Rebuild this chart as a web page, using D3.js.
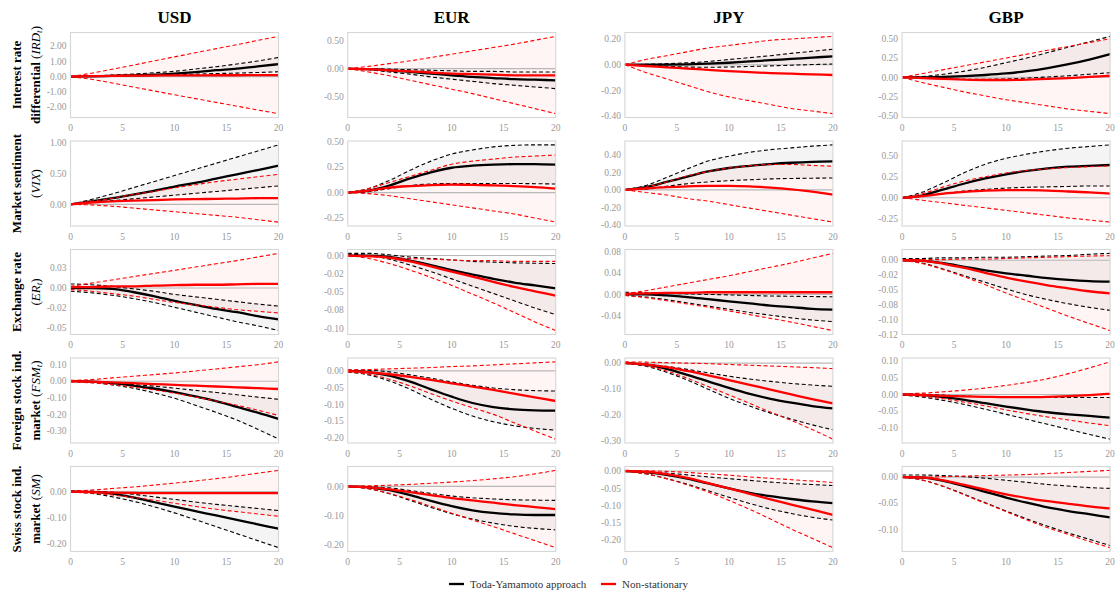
<!DOCTYPE html>
<html><head><meta charset="utf-8">
<script src="https://cdn.jsdelivr.net/npm/d3@7"></script>
<style>html,body{margin:0;padding:0;background:#fff;}svg{display:block;}</style>
</head><body>
<svg id="chart" width="1118" height="594"></svg>
<script>
const horizons = [0,2,4,6,8,10,12,14,16,18,20];
const currencies = ["USD","EUR","JPY","GBP"];
const rowLine1 = ["Interest rate","Market sentiment","Exchange rate","Foreign stock ind.","Swiss stock ind."];
const rowLine2Prefix = ["differential ","","","market ","market "];
const rowSymbol = ["IRD","VIX","ER","FSM","SM"];
const rowSubscript = ["t","","t","t",""];
const xTicks = [0,5,10,15,20];

// y tick values and labels [row][col]
const yTicks = [
 [[-2,-1,0,1,2],[-0.5,0,0.5],[-0.4,-0.2,0,0.2],[-0.5,-0.25,0,0.25,0.5]],
 [[0,0.5,1],[-0.25,0,0.25,0.5],[-0.4,-0.2,0,0.2,0.4],[-0.25,0,0.25,0.5]],
 [[-0.05,-0.025,0,0.025],[-0.1,-0.075,-0.05,-0.025,0],[-0.04,0,0.04,0.08],[-0.125,-0.1,-0.075,-0.05,-0.025,0]],
 [[-0.3,-0.2,-0.1,0,0.1],[-0.2,-0.15,-0.1,-0.05,0],[-0.3,-0.2,-0.1,0],[-0.1,-0.05,0,0.05,0.1]],
 [[-0.2,-0.1,0],[-0.2,-0.1,0],[-0.2,-0.15,-0.1,-0.05,0],[-0.1,-0.05,0]]
];
const yTickLabels = [
 [["-2.00","-1.00","0.00","1.00","2.00"],["-0.50","0.00","0.50"],["-0.40","-0.20","0.00","0.20"],["-0.50","-0.25","0.00","0.25","0.50"]],
 [["0.00","0.50","1.00"],["-0.25","0.00","0.25","0.50"],["-0.40","-0.20","0.00","0.20","0.40"],["-0.25","0.00","0.25","0.50"]],
 [["-0.05","-0.02","0.00","0.03"],["-0.10","-0.08","-0.05","-0.02","0.00"],["-0.04","0.00","0.04","0.08"],["-0.12","-0.10","-0.08","-0.05","-0.02","0.00"]],
 [["-0.30","-0.20","-0.10","0.00","0.10"],["-0.20","-0.15","-0.10","-0.05","0.00"],["-0.30","-0.20","-0.10","0.00"],["-0.10","-0.05","0.00","0.05","0.10"]],
 [["-0.20","-0.10","0.00"],["-0.20","-0.10","0.00"],["-0.20","-0.15","-0.10","-0.05","0.00"],["-0.10","-0.05","0.00"]]
];

// Toda-Yamamoto IRF [row][col][horizon]
const tyIRF = [
 [[0,0.02,0.05,0.08,0.12,0.2,0.3,0.42,0.53,0.67,0.82],
  [0,-0.01,-0.03,-0.06,-0.09,-0.12,-0.15,-0.17,-0.19,-0.2,-0.21],
  [0,0,0.001,0.003,0.008,0.015,0.025,0.035,0.045,0.055,0.065],
  [0,0,0.005,0.015,0.03,0.05,0.08,0.12,0.17,0.23,0.3]],
 [[0,0.05,0.1,0.16,0.22,0.29,0.35,0.42,0.49,0.56,0.63],
  [0,0.02,0.07,0.14,0.2,0.245,0.265,0.275,0.28,0.28,0.275],
  [0,0.03,0.09,0.15,0.21,0.25,0.275,0.295,0.31,0.32,0.325],
  [0,0.03,0.1,0.17,0.23,0.28,0.32,0.35,0.37,0.38,0.39]],
 [[0,0,-0.001,-0.005,-0.01,-0.016,-0.021,-0.026,-0.03,-0.035,-0.039],
  [0,0,-0.002,-0.007,-0.013,-0.02,-0.026,-0.032,-0.037,-0.041,-0.045],
  [0,0,-0.002,-0.005,-0.009,-0.013,-0.017,-0.021,-0.024,-0.027,-0.0285],
  [0,-0.001,-0.005,-0.011,-0.017,-0.022,-0.026,-0.03,-0.033,-0.035,-0.036]],
 [[0,-0.003,-0.012,-0.026,-0.044,-0.066,-0.092,-0.12,-0.155,-0.19,-0.228],
  [0,-0.004,-0.014,-0.032,-0.055,-0.077,-0.096,-0.108,-0.115,-0.118,-0.119],
  [0,-0.006,-0.022,-0.045,-0.07,-0.095,-0.118,-0.137,-0.152,-0.165,-0.174],
  [0,-0.002,-0.008,-0.016,-0.026,-0.036,-0.045,-0.053,-0.059,-0.064,-0.069]],
 [[0,-0.001,-0.008,-0.022,-0.04,-0.058,-0.075,-0.092,-0.109,-0.126,-0.143],
  [0,-0.003,-0.013,-0.03,-0.05,-0.068,-0.082,-0.091,-0.096,-0.098,-0.098],
  [0,-0.003,-0.011,-0.022,-0.036,-0.05,-0.063,-0.073,-0.081,-0.088,-0.093],
  [0,-0.001,-0.007,-0.017,-0.028,-0.039,-0.049,-0.058,-0.065,-0.071,-0.077]]
];
const tyUpper = [
 [[0,0.04,0.1,0.17,0.25,0.35,0.5,0.65,0.83,1.03,1.26],
  [0,0,-0.01,-0.02,-0.03,-0.04,-0.05,-0.05,-0.06,-0.06,-0.06],
  [0,0.003,0.008,0.015,0.025,0.04,0.055,0.07,0.088,0.104,0.12],
  [0,0.01,0.04,0.08,0.13,0.19,0.25,0.32,0.39,0.46,0.53]],
 [[0,0.08,0.17,0.27,0.37,0.47,0.57,0.67,0.77,0.87,0.97],
  [0,0.04,0.12,0.22,0.31,0.38,0.42,0.45,0.465,0.47,0.47],
  [0,0.05,0.14,0.24,0.33,0.385,0.43,0.46,0.48,0.5,0.515],
  [0,0.07,0.18,0.3,0.4,0.47,0.52,0.56,0.59,0.61,0.63]],
 [[0.005,0.004,0.002,-0.001,-0.004,-0.008,-0.011,-0.014,-0.017,-0.02,-0.0225],
  [0.003,0.003,0.001,-0.002,-0.004,-0.006,-0.008,-0.009,-0.01,-0.0105,-0.011],
  [0.004,0.003,0.002,0.001,0,-0.001,-0.002,-0.003,-0.0035,-0.004,-0.0045],
  [0.003,0.003,0.004,0.004,0.005,0.005,0.006,0.007,0.008,0.01,0.0115]],
 [[0,-0.004,-0.01,-0.02,-0.03,-0.042,-0.055,-0.068,-0.082,-0.096,-0.109],
  [0.003,0.002,-0.003,-0.012,-0.022,-0.033,-0.043,-0.051,-0.056,-0.059,-0.06],
  [0,-0.003,-0.012,-0.024,-0.037,-0.05,-0.061,-0.07,-0.078,-0.084,-0.089],
  [0.002,0.001,-0.002,-0.005,-0.007,-0.008,-0.009,-0.009,-0.009,-0.009,-0.009]],
 [[0.003,0.002,-0.002,-0.01,-0.02,-0.03,-0.04,-0.049,-0.057,-0.065,-0.073],
  [0,-0.001,-0.005,-0.014,-0.024,-0.033,-0.039,-0.043,-0.046,-0.047,-0.048],
  [0,-0.002,-0.006,-0.011,-0.017,-0.022,-0.027,-0.032,-0.036,-0.039,-0.042],
  [0.004,0.004,0.003,0.001,-0.002,-0.006,-0.01,-0.014,-0.017,-0.02,-0.0215]]
];
const tyLower = [
 [[0,0.02,0.05,0.08,0.1,0.12,0.16,0.2,0.23,0.27,0.32],
  [0,-0.02,-0.06,-0.1,-0.15,-0.19,-0.23,-0.27,-0.3,-0.33,-0.36],
  [0,-0.005,-0.012,-0.018,-0.02,-0.018,-0.014,-0.009,-0.004,0.001,0.005],
  [0,-0.01,-0.02,-0.025,-0.025,-0.02,-0.01,0.005,0.02,0.04,0.06]],
 [[0,0.03,0.06,0.09,0.12,0.15,0.18,0.21,0.24,0.27,0.3],
  [0,0.01,0.04,0.07,0.085,0.09,0.09,0.09,0.09,0.088,0.085],
  [0,0.01,0.04,0.07,0.09,0.105,0.115,0.125,0.13,0.133,0.136],
  [0,0.02,0.05,0.08,0.1,0.115,0.125,0.13,0.135,0.14,0.14]],
 [[-0.004,-0.006,-0.009,-0.013,-0.018,-0.024,-0.03,-0.036,-0.042,-0.047,-0.053],
  [0.002,0,-0.005,-0.013,-0.022,-0.032,-0.042,-0.052,-0.062,-0.072,-0.081],
  [-0.002,-0.005,-0.01,-0.016,-0.022,-0.028,-0.034,-0.039,-0.044,-0.048,-0.051],
  [0,-0.005,-0.015,-0.026,-0.037,-0.048,-0.058,-0.066,-0.073,-0.079,-0.084]],
 [[0,-0.008,-0.022,-0.042,-0.07,-0.103,-0.145,-0.188,-0.235,-0.29,-0.35],
  [-0.003,-0.012,-0.03,-0.055,-0.085,-0.112,-0.135,-0.152,-0.164,-0.172,-0.177],
  [0,-0.012,-0.035,-0.065,-0.1,-0.135,-0.165,-0.192,-0.215,-0.237,-0.256],
  [-0.002,-0.008,-0.018,-0.03,-0.044,-0.059,-0.074,-0.089,-0.104,-0.119,-0.133]],
 [[0,-0.007,-0.02,-0.037,-0.058,-0.082,-0.108,-0.135,-0.162,-0.189,-0.216],
  [0,-0.008,-0.025,-0.048,-0.072,-0.094,-0.112,-0.126,-0.137,-0.144,-0.149],
  [0,-0.008,-0.022,-0.038,-0.057,-0.076,-0.094,-0.11,-0.123,-0.134,-0.142],
  [0,-0.006,-0.018,-0.033,-0.049,-0.065,-0.08,-0.094,-0.107,-0.119,-0.131]]
];

// Non-stationary IRF [row][col][horizon]
const nsIRF = [
 [[0,0.03,0.05,0.06,0.07,0.08,0.08,0.09,0.09,0.1,0.1],
  [0,-0.01,-0.03,-0.05,-0.07,-0.09,-0.1,-0.11,-0.12,-0.12,-0.12],
  [0,-0.01,-0.02,-0.03,-0.04,-0.05,-0.058,-0.065,-0.07,-0.075,-0.08],
  [0,-0.01,-0.02,-0.03,-0.035,-0.035,-0.03,-0.02,-0.01,0.005,0.02]],
 [[0,0.03,0.05,0.06,0.07,0.08,0.085,0.09,0.095,0.1,0.1],
  [0,0.02,0.05,0.065,0.075,0.078,0.077,0.072,0.065,0.055,0.04],
  [0,0.015,0.03,0.04,0.045,0.045,0.04,0.025,0.005,-0.02,-0.055],
  [0,0.02,0.05,0.07,0.085,0.09,0.09,0.085,0.075,0.065,0.05]],
 [[0.001,0.001,0.002,0.002,0.003,0.0035,0.004,0.004,0.0045,0.005,0.005],
  [0,-0.001,-0.003,-0.008,-0.015,-0.022,-0.029,-0.036,-0.043,-0.049,-0.055],
  [0.001,0.002,0.003,0.003,0.004,0.004,0.004,0.004,0.004,0.004,0.004],
  [0,-0.001,-0.006,-0.013,-0.021,-0.029,-0.036,-0.042,-0.047,-0.052,-0.0555]],
 [[0,-0.003,-0.007,-0.012,-0.017,-0.022,-0.027,-0.032,-0.037,-0.042,-0.047],
  [0,-0.004,-0.01,-0.018,-0.027,-0.037,-0.047,-0.057,-0.068,-0.079,-0.09],
  [0,-0.005,-0.015,-0.03,-0.047,-0.065,-0.083,-0.102,-0.12,-0.138,-0.155],
  [0,-0.002,-0.004,-0.006,-0.007,-0.008,-0.008,-0.007,-0.005,-0.002,0.002]],
 [[0,-0.002,-0.004,-0.005,-0.006,-0.006,-0.006,-0.006,-0.006,-0.006,-0.006],
  [0,-0.003,-0.01,-0.02,-0.03,-0.04,-0.048,-0.056,-0.064,-0.071,-0.078],
  [0,-0.002,-0.009,-0.02,-0.035,-0.05,-0.066,-0.082,-0.097,-0.112,-0.127],
  [0,-0.001,-0.006,-0.015,-0.024,-0.033,-0.04,-0.046,-0.051,-0.056,-0.06]]
];
const nsUpper = [
 [[0,0.22,0.48,0.75,1.03,1.3,1.57,1.84,2.1,2.38,2.65],
  [0,0.04,0.09,0.14,0.2,0.26,0.32,0.38,0.44,0.51,0.58],
  [0,0.04,0.07,0.1,0.13,0.15,0.17,0.19,0.2,0.21,0.22],
  [0,0.05,0.1,0.15,0.2,0.25,0.3,0.35,0.4,0.45,0.5]],
 [[0,0.05,0.1,0.16,0.21,0.27,0.32,0.37,0.41,0.45,0.49],
  [0,0.04,0.1,0.16,0.22,0.28,0.31,0.33,0.35,0.36,0.37],
  [0,0.03,0.09,0.16,0.21,0.25,0.275,0.29,0.29,0.28,0.27],
  [0,0.05,0.13,0.2,0.25,0.295,0.325,0.345,0.36,0.37,0.38]],
 [[0.002,0.006,0.01,0.014,0.018,0.022,0.026,0.03,0.034,0.0385,0.043],
  [0,-0.001,-0.003,-0.004,-0.005,-0.006,-0.007,-0.007,-0.008,-0.008,-0.008],
  [0.001,0.007,0.014,0.021,0.028,0.035,0.043,0.051,0.059,0.068,0.077],
  [0,0.001,0.001,0.002,0.002,0.003,0.004,0.005,0.006,0.007,0.0075]],
 [[0.005,0.01,0.02,0.03,0.04,0.05,0.062,0.074,0.087,0.1,0.117],
  [0.003,0.004,0.006,0.008,0.01,0.013,0.015,0.018,0.021,0.024,0.027],
  [0.005,0.004,0.002,0,-0.002,-0.005,-0.008,-0.011,-0.014,-0.017,-0.021],
  [0.002,0.004,0.008,0.013,0.019,0.027,0.036,0.047,0.062,0.079,0.097]],
 [[0.002,0.006,0.012,0.018,0.025,0.033,0.041,0.05,0.06,0.071,0.082],
  [0,0.002,0.004,0.007,0.011,0.015,0.02,0.026,0.033,0.043,0.055],
  [0.002,0.001,-0.001,-0.004,-0.008,-0.012,-0.017,-0.021,-0.025,-0.029,-0.033],
  [0,0,0.001,0.002,0.003,0.004,0.005,0.007,0.009,0.011,0.013]]
];
const nsLower = [
 [[0,-0.18,-0.42,-0.68,-0.94,-1.2,-1.45,-1.7,-1.95,-2.2,-2.44],
  [0,-0.06,-0.13,-0.21,-0.29,-0.37,-0.45,-0.54,-0.63,-0.72,-0.81],
  [0,-0.06,-0.11,-0.16,-0.21,-0.25,-0.28,-0.31,-0.34,-0.36,-0.38],
  [0,-0.07,-0.13,-0.19,-0.24,-0.29,-0.33,-0.37,-0.41,-0.44,-0.47]],
 [[0,-0.01,-0.03,-0.06,-0.09,-0.12,-0.15,-0.18,-0.21,-0.25,-0.29],
  [0,-0.01,-0.03,-0.06,-0.09,-0.12,-0.15,-0.18,-0.21,-0.25,-0.29],
  [0,-0.03,-0.06,-0.1,-0.13,-0.17,-0.21,-0.25,-0.29,-0.33,-0.37],
  [0,-0.03,-0.06,-0.09,-0.12,-0.15,-0.18,-0.21,-0.24,-0.265,-0.29]],
 [[-0.002,-0.004,-0.007,-0.01,-0.014,-0.018,-0.021,-0.024,-0.027,-0.029,-0.031],
  [0,-0.004,-0.011,-0.02,-0.03,-0.041,-0.053,-0.065,-0.078,-0.091,-0.103],
  [-0.002,-0.006,-0.012,-0.018,-0.024,-0.031,-0.038,-0.045,-0.052,-0.06,-0.068],
  [0,-0.006,-0.016,-0.028,-0.041,-0.055,-0.068,-0.081,-0.094,-0.106,-0.118]],
 [[-0.005,-0.01,-0.02,-0.035,-0.052,-0.072,-0.095,-0.12,-0.145,-0.175,-0.207],
  [-0.003,-0.01,-0.025,-0.045,-0.068,-0.09,-0.11,-0.13,-0.155,-0.18,-0.204],
  [0,-0.01,-0.03,-0.058,-0.09,-0.122,-0.155,-0.188,-0.22,-0.255,-0.292],
  [0,-0.005,-0.013,-0.023,-0.034,-0.046,-0.057,-0.067,-0.076,-0.085,-0.093]],
 [[-0.002,-0.006,-0.013,-0.022,-0.033,-0.045,-0.057,-0.068,-0.077,-0.086,-0.095],
  [0,-0.008,-0.024,-0.045,-0.068,-0.092,-0.115,-0.138,-0.162,-0.186,-0.21],
  [0,-0.008,-0.022,-0.04,-0.061,-0.085,-0.111,-0.139,-0.168,-0.195,-0.222],
  [0,-0.006,-0.018,-0.034,-0.05,-0.066,-0.082,-0.097,-0.11,-0.123,-0.135]]
];

const legendLabels = ["Toda-Yamamoto approach","Non-stationary"];
const seriesColors = ["#000000","#ff0000"];

// ---------- layout ----------
const FONT = "'Liberation Serif','DejaVu Serif',serif";
const left0 = 70.5, colStep = 277.2, panelW = 208;
const top0 = 32.5, rowStep = 108.5, panelH = 85;

const svg = d3.select("#chart");
svg.append("rect").attr("width",1118).attr("height",594).attr("fill","#fff");

const curve = d3.curveMonotoneX;

currencies.forEach((cur, c) => {
  svg.append("text")
    .attr("x", left0 + c*colStep + panelW/2).attr("y", 23)
    .attr("text-anchor","middle")
    .attr("font-family",FONT).attr("font-weight","bold").attr("font-size",17)
    .attr("fill","#000").text(cur);
});

rowLine1.forEach((lab, r) => {
  const cy = top0 + r*rowStep + panelH/2;
  svg.append("text")
    .attr("transform",`translate(20.5,${cy}) rotate(-90)`)
    .attr("text-anchor","middle")
    .attr("font-family",FONT).attr("font-weight","bold").attr("font-size",13)
    .text(lab);
  const t = svg.append("text")
    .attr("transform",`translate(39.5,${cy}) rotate(-90)`)
    .attr("text-anchor","middle")
    .attr("font-family",FONT).attr("font-size",13);
  if (rowLine2Prefix[r]) t.append("tspan").attr("font-weight","bold").text(rowLine2Prefix[r]);
  t.append("tspan").text("(");
  t.append("tspan").attr("font-style","italic").text(rowSymbol[r]);
  if (rowSubscript[r]) {
    t.append("tspan").attr("font-style","italic").attr("font-size",9).attr("dy",2.5).text(rowSubscript[r]);
    t.append("tspan").attr("dy",-2.5).text(")");
  } else {
    t.append("tspan").text(")");
  }
});

for (let r = 0; r < 5; r++) {
  for (let c = 0; c < 4; c++) {
    const x0 = left0 + c*colStep, y0 = top0 + r*rowStep;
    const series = [tyIRF[r][c], tyUpper[r][c], tyLower[r][c], nsIRF[r][c], nsUpper[r][c], nsLower[r][c]];
    const all = series.flat();
    const mn = d3.min(all), mx = d3.max(all), pad = (mx - mn)*0.05;
    const x = d3.scaleLinear().domain([0,20]).range([x0, x0+panelW]);
    const y = d3.scaleLinear().domain([mn-pad, mx+pad]).range([y0+panelH, y0]);
    const g = svg.append("g");

    const area = (lo, hi) => d3.area().curve(curve)
      .x((d,i)=>x(horizons[i])).y0((d,i)=>y(lo[i])).y1((d,i)=>y(hi[i]))(horizons);
    const line = d3.line().curve(curve).x((d,i)=>x(horizons[i])).y(d=>y(d));

    g.append("path").attr("d", area(tyLower[r][c], tyUpper[r][c])).attr("fill","#000").attr("fill-opacity",0.045);
    g.append("path").attr("d", area(nsLower[r][c], nsUpper[r][c])).attr("fill","#ff0000").attr("fill-opacity",0.04);

    g.append("line").attr("x1",x(0)).attr("x2",x(20)).attr("y1",y(0)).attr("y2",y(0))
      .attr("stroke","#b8b8b8").attr("stroke-width",1.1);

    const dashed = (arr, col) => g.append("path").attr("d", line(arr)).attr("fill","none")
      .attr("stroke",col).attr("stroke-width",1.1).attr("stroke-dasharray","4,2.6");
    const solid = (arr, col) => g.append("path").attr("d", line(arr)).attr("fill","none")
      .attr("stroke",col).attr("stroke-width",2.3);

    dashed(tyUpper[r][c], seriesColors[0]);
    dashed(tyLower[r][c], seriesColors[0]);
    solid(tyIRF[r][c], seriesColors[0]);
    dashed(nsUpper[r][c], seriesColors[1]);
    dashed(nsLower[r][c], seriesColors[1]);
    solid(nsIRF[r][c], seriesColors[1]);

    g.append("rect").attr("x",x0).attr("y",y0).attr("width",panelW).attr("height",panelH)
      .attr("fill","none").attr("stroke","#d6d6d6").attr("stroke-width",1.1);

    xTicks.forEach(v => {
      g.append("text").attr("x",x(v)).attr("y",y0+panelH+13.5)
        .attr("text-anchor","middle").attr("font-family",FONT).attr("font-size",9.5)
        .attr("fill","#999").text(v);
    });
    yTicks[r][c].forEach((v,i) => {
      g.append("text").attr("x",x0-4).attr("y",y(v)).attr("dy","0.34em")
        .attr("text-anchor","end").attr("font-family",FONT).attr("font-size",9.5)
        .attr("fill","#999").text(yTickLabels[r][c][i]);
    });
  }
}

// legend
const legX = [449, 601];
legendLabels.forEach((lab,i) => {
  svg.append("line").attr("x1",legX[i]).attr("x2",legX[i]+15).attr("y1",584).attr("y2",584)
    .attr("stroke",seriesColors[i]).attr("stroke-width",2.3);
  svg.append("text").attr("x",legX[i]+21).attr("y",584).attr("dy","0.34em")
    .attr("font-family",FONT).attr("font-size",11).attr("fill","#333").text(lab);
});
</script>
</body></html>
